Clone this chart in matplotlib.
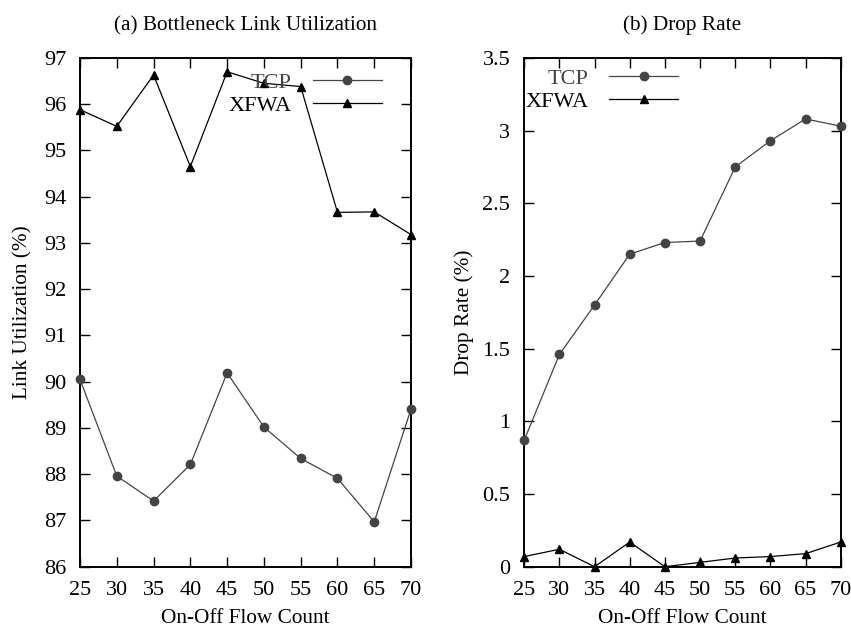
import matplotlib
matplotlib.use("Agg")
import matplotlib.pyplot as plt

plt.rcParams["font.family"] = ["Liberation Serif", "DejaVu Serif"]

flows = [25, 30, 35, 40, 45, 50, 55, 60, 65, 70]

# link utilization (%)
util_tcp = [90.05, 87.96, 87.42, 88.21, 90.19, 89.02, 88.34, 87.91, 86.97, 89.41]
util_xfwa = [95.88, 95.52, 96.63, 94.65, 96.70, 96.45, 96.38, 93.66, 93.67, 93.18]

# drop rate (%)
drop_tcp = [0.87, 1.46, 1.80, 2.15, 2.23, 2.24, 2.75, 2.93, 3.08, 3.03]
drop_xfwa = [0.07, 0.12, 0.0, 0.17, 0.0, 0.03, 0.06, 0.07, 0.09, 0.17]

GRAY = "#444444"

fig = plt.figure(figsize=(8.51, 6.29), dpi=100)
ax1 = fig.add_axes([0.094, 0.099, 0.389, 0.809])
ax2 = fig.add_axes([0.616, 0.099, 0.372, 0.809])


def draw(ax, tcp, xfwa, ylim, yticks, ylabel, title, legend_loc, anchor, ypad):
    ax.plot(flows, tcp, color=GRAY, lw=0.9, marker="o", ms=6,
            mfc=GRAY, mec=GRAY, label="TCP", clip_on=False, zorder=3)
    ax.plot(flows, xfwa, color="black", lw=0.9, marker="^", ms=5.5,
            mfc="black", mec="black", label="XFWA", clip_on=False, zorder=3)
    ax.set_xlim(25, 70)
    ax.set_ylim(*ylim)
    ax.set_xticks(flows)
    ax.set_yticks(yticks)
    ax.tick_params(direction="in", top=True, right=True, length=7,
                   width=1, labelsize=16)
    ax.tick_params(axis="y", pad=10)
    ax.tick_params(axis="x", pad=10)
    for s in ax.spines.values():
        s.set_linewidth(1.4)
    ax.set_xlabel("On-Off Flow Count", fontsize=15.3, labelpad=7)
    ax.set_ylabel(ylabel, fontsize=15.3, labelpad=ypad)
    ax.set_title(title, fontsize=15.3, pad=20)
    leg = ax.legend(loc=legend_loc, bbox_to_anchor=anchor, frameon=False,
                    markerfirst=False, fontsize=16, handlelength=3.1,
                    handletextpad=0.95, labelspacing=0.12,
                    borderpad=0, borderaxespad=0)
    for txt, c in zip(leg.get_texts(), [GRAY, "black"]):
        txt.set_color(c)
        txt.set_ha("right")
    return leg


draw(ax1, util_tcp, util_xfwa, (86, 97), range(86, 98),
     "Link Utilization (%)", "(a) Bottleneck Link Utilization",
     "upper right", (0.912, 0.972), 8)
draw(ax2, drop_tcp, drop_xfwa, (0, 3.5), [0, 0.5, 1, 1.5, 2, 2.5, 3, 3.5],
     "Drop Rate (%)", "(b) Drop Rate", "upper left", (0.003, 0.98), 6)
ax2.set_yticklabels(["0", "0.5", "1", "1.5", "2", "2.5", "3", "3.5"])

fig.savefig("out.png", dpi=100)
